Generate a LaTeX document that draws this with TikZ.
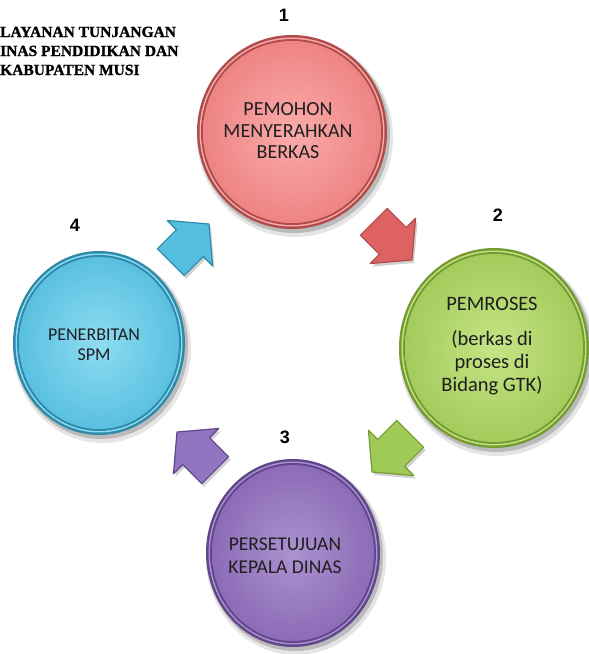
\documentclass[tikz,border=0pt]{standalone}
\usepackage{fontspec}
\setmainfont{Carlito}
\newfontfamily\numfont{Liberation Sans}
\newfontfamily\titlefont{Liberation Serif}[BoldFont={Liberation Serif Bold}, BoldFeatures={FakeBold=1.2}]
\definecolor{redmain}{RGB}{238,132,132}
\definecolor{redlight}{RGB}{250,172,170}
\definecolor{reddark}{RGB}{176,76,76}
\definecolor{redarrow}{RGB}{222,98,98}
\definecolor{greenmain}{RGB}{164,204,92}
\definecolor{greenlight}{RGB}{198,228,134}
\definecolor{greendark}{RGB}{116,156,50}
\definecolor{greenarrow}{RGB}{160,202,86}
\definecolor{purplemain}{RGB}{140,108,182}
\definecolor{purplelight}{RGB}{172,146,208}
\definecolor{purpledark}{RGB}{96,70,138}
\definecolor{purplearrow}{RGB}{146,116,192}
\definecolor{cyanmain}{RGB}{90,192,224}
\definecolor{cyanlight}{RGB}{142,220,242}
\definecolor{cyandark}{RGB}{46,138,168}
\definecolor{cyanarrow}{RGB}{86,190,222}
\newcommand\bubble[5]{%
\begin{scope}[shift={(#1,#2)}]
 \fill[black, opacity=0.10] (3,5) ellipse ({#3+3} and {#4+3});
 \fill[black, opacity=0.18] (2,3) ellipse ({#3+1} and {#4+1});
 \fill[#5dark] (0,0) ellipse ({#3} and {#4});
 \fill[#5light] (0,0) ellipse ({#3-2.5} and {#4-2.5});
 \fill[#5dark] (0,0) ellipse ({#3-4} and {#4-4});
 \shade[inner color=#5light, outer color=#5main] (0,0) ellipse ({#3-6} and {#4-6});
\end{scope}}
\newcommand\blockarrow[4]{%
\begin{scope}[shift={(#1+2,#2+3)}, rotate=#3]
 \fill[black, opacity=0.18] (0,0) -- (-27,32) -- (-27,19) -- (-54,19) -- (-54,-19) -- (-27,-19) -- (-27,-32) -- cycle;
\end{scope}
\begin{scope}[shift={(#1,#2)}, rotate=#3]
 \fill[#4arrow, draw=#4dark, line width=1.2pt, line join=round] (0,0) -- (-27,32) -- (-27,19) -- (-54,19) -- (-54,-19) -- (-27,-19) -- (-27,-32) -- cycle;
\end{scope}}
\tikzset{
 steptext/.style={align=center, text=black!88, inner sep=0pt},
 numtext/.style={font=\numfont\bfseries\fontsize{18}{20}\selectfont, inner sep=0pt},
 titletext/.style={font=\titlefont\bfseries\fontsize{15.5}{18}\selectfont, anchor=base west, inner sep=0pt}
}
\begin{document}
\begin{tikzpicture}[x=1pt, y=-1pt]
\useasboundingbox (0,0) rectangle (589,654);
\clip (0,0) rectangle (589,654);
\fill[white] (0,0) rectangle (589,654);
% title
\node[titletext] (t1) at (0,37) {LAYANAN TUNJANGAN};
\node[titletext] (t2) at (0,56) {INAS PENDIDIKAN DAN};
\node[titletext] (t3) at (0,75) {KABUPATEN MUSI};
% circles
\bubble{292}{132}{95}{97}{red}
\bubble{494}{348}{95}{100}{green}
\bubble{293}{553}{87}{94}{purple}
\bubble{99}{343}{86}{92}{cyan}
% arrows
\blockarrow{412}{260}{-45}{red}
\blockarrow{372}{472}{-135}{green}
\blockarrow{177}{432}{135}{purple}
\blockarrow{209}{224}{45}{cyan}
% numbers
\node[numtext] (num1) at (284,15) {1};
\node[numtext] (num2) at (498,215) {2};
\node[numtext] (num3) at (285,437) {3};
\node[numtext] (num4) at (75,225) {4};
% texts
\node[steptext, font=\fontsize{20}{21.5}\selectfont] (s1) at (288,131) {PEMOHON\\MENYERAHKAN\\BERKAS};
\node[steptext, font=\fontsize{20.5}{23}\selectfont] (s2) at (492,346) {PEMROSES\\[12pt](berkas di\\proses di\\Bidang GTK)};
\node[steptext, font=\fontsize{19.5}{23}\selectfont] (s3) at (285,556) {PERSETUJUAN\\KEPALA DINAS};
\node[steptext, font=\fontsize{18}{20}\selectfont] (s4) at (94,345) {PENERBITAN\\SPM};
\end{tikzpicture}
\end{document}
